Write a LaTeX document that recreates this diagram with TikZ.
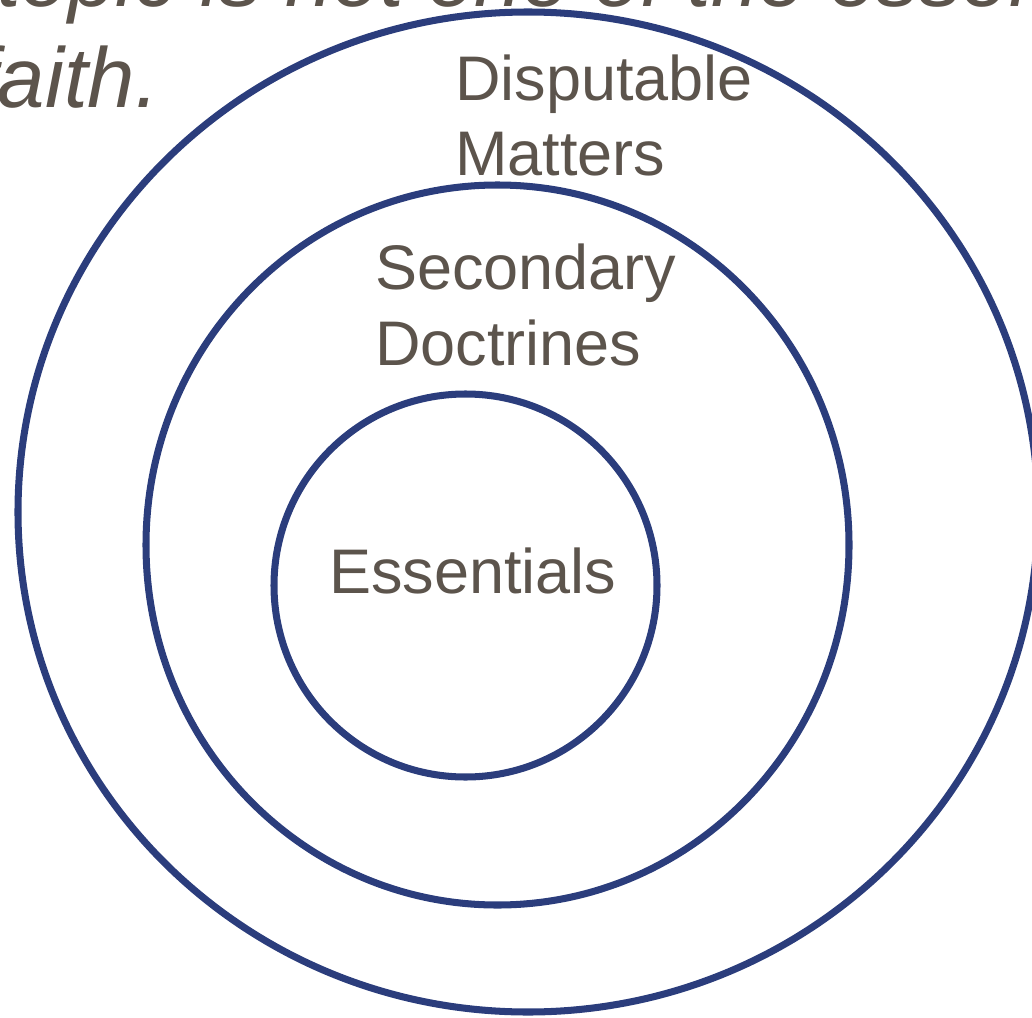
\documentclass[tikz,border=0pt]{standalone}
\usepackage{fontspec}
\setmainfont{Liberation Sans}
\definecolor{ringblue}{HTML}{2B3D7C}
\definecolor{labelgray}{HTML}{5C544C}
\tikzset{
  ring/.style={draw=ringblue,line width=5pt},
  ringlabel/.style={text=labelgray,anchor=base west,inner sep=0pt,align=left,
    font=\fontsize{44.8}{54}\selectfont},
  headline/.style={text=labelgray,anchor=base west,inner sep=0pt,
    font=\fontsize{60.5}{72}\selectfont\itshape}
}
\begin{document}
\begin{tikzpicture}[x=0.025cm,y=-0.025cm]
  \useasboundingbox (0,0) rectangle (1032,1018);
  \clip (0,0) rectangle (1032,1018);
  \begin{scope}
    % caption text cut by the frame
    \node[headline] (lineone) at (-3,7) {topic is not one of the essentials of the};
    \node[headline] (linetwo) at (-26,108) {faith.};

    % the three rings
    \draw[ring] (528,512) ellipse [x radius=510, y radius=500];
    \draw[ring] (497.5,545) ellipse [x radius=351.5, y radius=360];
    \draw[ring] (465.5,585.5) circle [radius=191.5];

    % base of a two-line label is its last line
    \node[ringlabel] (disputable) at (455,176) {Disputable\\Matters};
    \node[ringlabel] (secondary) at (375,365) {Secondary\\Doctrines};
    \node[ringlabel] (essentials) at (329,593) {Essentials};
  \end{scope}
\end{tikzpicture}
\end{document}
